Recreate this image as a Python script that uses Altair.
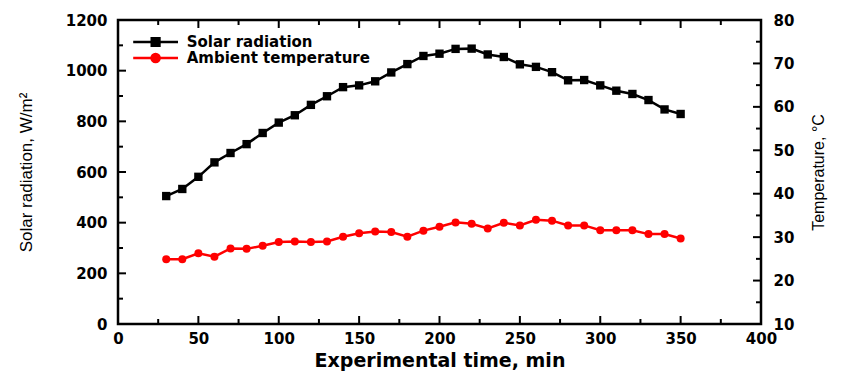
import altair as alt
import pandas as pd

# ---------------- data ----------------
time_min = [30, 40, 50, 60, 70, 80, 90, 100, 110, 120, 130, 140, 150, 160, 170, 180,
            190, 200, 210, 220, 230, 240, 250, 260, 270, 280, 290, 300, 310, 320, 330,
            340, 350]
solar_radiation = [505, 533, 581, 638, 675, 710, 754, 795, 824, 865, 899, 935, 942, 958,
                   993, 1026, 1058, 1067, 1086, 1087, 1064, 1054, 1025, 1015, 994, 962,
                   963, 942, 921, 908, 884, 847, 829]
ambient_temp = [24.9, 24.9, 26.3, 25.5, 27.4, 27.3, 28.0, 28.9, 29.0, 28.9, 29.0, 30.1,
                30.9, 31.3, 31.2, 30.1, 31.5, 32.4, 33.4, 33.1, 32.0, 33.3, 32.7, 34.0,
                33.8, 32.7, 32.7, 31.6, 31.6, 31.6, 30.7, 30.7, 29.7]
series_names = ["Solar radiation", "Ambient temperature"]
series_colors = ["#000000", "#ff0000"]

x_major = [0, 50, 100, 150, 200, 250, 300, 350, 400]
x_minor = [25, 75, 125, 175, 225, 275, 325, 375]
left_major = [0, 200, 400, 600, 800, 1000, 1200]
left_minor = [100, 300, 500, 700, 900, 1100]
right_major = [10, 20, 30, 40, 50, 60, 70, 80]
right_minor = [15, 25, 35, 45, 55, 65, 75]

# ---------------- style ----------------
W, H = 643, 304
BOLD = "DejaVu Sans"
REG = "Liberation Sans"
LBL = 15
MAJ, MIN = 8, 5

solar_df = pd.DataFrame({"time": time_min, "value": solar_radiation})
temp_df = pd.DataFrame({"time": time_min, "value": ambient_temp})

x_enc = alt.X(
    "time:Q",
    scale=alt.Scale(domain=[0, 400], nice=False, zero=False),
    axis=alt.Axis(
        values=x_major, format="d", ticks=False, tickSize=0, domain=False, grid=False,
        labelFlush=False, labelFont=BOLD, labelFontWeight="bold", labelFontSize=LBL,
        labelColor="black", labelPadding=7,
        title="Experimental time, min", titleFont=BOLD, titleFontWeight="bold",
        titleFontSize=19, titleColor="black", titleX=W / 2, titleY=36,
        titleAlign="center", titleBaseline="middle",
    ),
)

y_solar = alt.Y(
    "value:Q",
    scale=alt.Scale(domain=[0, 1200], nice=False, zero=False),
    axis=alt.Axis(
        orient="left", values=left_major, format="d", ticks=False, tickSize=0,
        domain=False, grid=False, labelFlush=False, labelFont=BOLD,
        labelFontWeight="bold", labelFontSize=LBL, labelColor="black", labelPadding=11,
        title="Solar radiation, W/m²", titleFont=REG, titleFontWeight="normal",
        titleFontSize=17, titleColor="black", titleX=-92, titleY=H / 2,
        titleAngle=270, titleAlign="center", titleBaseline="middle",
    ),
)

y_temp = alt.Y(
    "value:Q",
    scale=alt.Scale(domain=[10, 80], nice=False, zero=False),
    axis=alt.Axis(
        orient="right", values=right_major, format="d", ticks=False, tickSize=0,
        domain=False, grid=False, labelFlush=False, labelFont=BOLD,
        labelFontWeight="bold", labelFontSize=LBL, labelColor="black", labelPadding=12,
        title="Temperature, °C", titleFont=REG, titleFontWeight="normal",
        titleFontSize=16, titleColor="black", titleX=57, titleY=H / 2,
        titleAngle=270, titleAlign="center", titleBaseline="middle",
    ),
)

solar_layer = alt.layer(
    alt.Chart(solar_df).mark_line(color="black", strokeWidth=2.5).encode(x=x_enc, y=y_solar),
    alt.Chart(solar_df).mark_point(shape="square", filled=True, size=70, color="black",
                                   opacity=1).encode(x=x_enc, y=y_solar),
)

temp_layer = alt.layer(
    alt.Chart(temp_df).mark_line(color="#ff0000", strokeWidth=2.5).encode(x=x_enc, y=y_temp),
    alt.Chart(temp_df).mark_point(shape="circle", filled=True, size=64, color="#ff0000",
                                  opacity=1).encode(x=x_enc, y=y_temp),
)


def xticks(vals, length, top):
    df = pd.DataFrame({"time": vals})
    y0, y1 = (0, length) if top else (H, H - length)
    return alt.Chart(df).mark_rule(color="black", strokeWidth=2).encode(
        x=x_enc, y=alt.value(y0), y2=alt.value(y1))


def yticks(vals, domain, length, right):
    df = pd.DataFrame({"v": vals})
    x0, x1 = (W, W - length) if right else (0, length)
    return alt.Chart(df).mark_rule(color="black", strokeWidth=2).encode(
        y=alt.Y("v:Q", scale=alt.Scale(domain=domain, nice=False, zero=False), axis=None),
        x=alt.value(x0), x2=alt.value(x1))


# legend symbols: a line with the marker in its middle (unit = 7 px),
# drawn to the right of the entry's left edge so it is not clipped
sq_path = "M-1,0L5.4,0M1.65,-0.55L2.75,-0.55L2.75,0.55L1.65,0.55Z"
ci_path = "M-1,0L5.4,0M1.62,0A0.58,0.58 0 1,0 2.78,0A0.58,0.58 0 1,0 1.62,0Z"

leg = alt.Legend(
    title=None, orient="none", legendX=13.7, legendY=14.5, padding=0,
    symbolSize=196, symbolStrokeWidth=2.5, labelFont=BOLD, labelFontWeight="bold",
    labelFontSize=15, labelColor="black", labelOffset=38, rowPadding=0,
    clipHeight=15, labelLimit=400,
)
legend_df = pd.DataFrame({"series": series_names})
legend_layer = alt.Chart(legend_df).transform_filter("false").mark_point(
    filled=True, opacity=1).encode(
    fill=alt.Fill("series:N", scale=alt.Scale(domain=series_names, range=series_colors),
                  legend=leg),
    stroke=alt.Stroke("series:N", scale=alt.Scale(domain=series_names, range=series_colors),
                      legend=leg),
    shape=alt.Shape("series:N", scale=alt.Scale(domain=series_names, range=[sq_path, ci_path]),
                    legend=leg),
)

chart = alt.layer(
    xticks(x_major, MAJ, False), xticks(x_minor, MIN, False),
    xticks(x_major, MAJ, True), xticks(x_minor, MIN, True),
    yticks(left_major, [0, 1200], MAJ, False), yticks(left_minor, [0, 1200], MIN, False),
    yticks(right_major, [10, 80], MAJ, True), yticks(right_minor, [10, 80], MIN, True),
    solar_layer, temp_layer, legend_layer,
).resolve_scale(y="independent").properties(
    width=W, height=H,
    padding={"left": 110, "top": 12, "right": 72, "bottom": 48},
    autosize=alt.AutoSizeParams(type="none"),
    background="white",
).configure_view(stroke="black", strokeWidth=2.5)

chart.save("out.html", embed_options={"renderer": "svg", "actions": False})
